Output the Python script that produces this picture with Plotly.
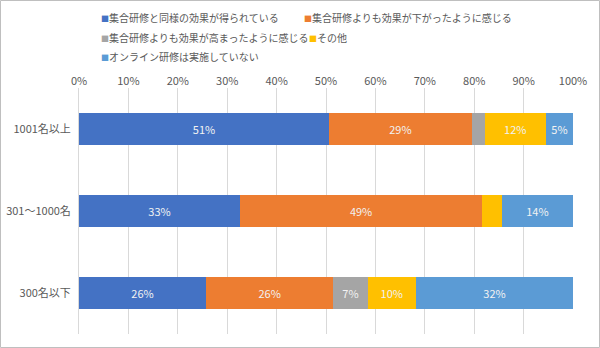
import plotly.graph_objects as go

categories = ["1001名以上", "301～1000名", "300名以下"]
series_names = [
    "集合研修と同様の効果が得られている",
    "集合研修よりも効果が下がったように感じる",
    "集合研修よりも効果が高まったように感じる",
    "その他",
    "オンライン研修は実施していない",
]
values = [
    [50.6, 32.6, 25.7],
    [28.9, 49.0, 25.8],
    [2.6, 0.0, 6.9],
    [12.4, 4.0, 9.8],
    [5.5, 14.4, 31.8],
]
labels = [
    ["51%", "33%", "26%"],
    ["29%", "49%", "26%"],
    ["", "", "7%"],
    ["12%", "", "10%"],
    ["5%", "14%", "32%"],
]
colors = ["#4472C4", "#ED7D31", "#A5A5A5", "#FFC000", "#5B9BD5"]

FONT = "Noto Sans CJK JP"
W, H = 600, 348
ml, mr, mt, mb = 79, 27, 88, 14
pw = W - ml - mr
ph = H - mt - mb

# legend entry positions (px): (marker_left, row_center)
legend_pos = [(101, 17.5), (304, 17.5), (101, 37), (309, 37), (101, 55.7)]
legend_ids = ["legend", "legend2", "legend3", "legend4", "legend5"]

fig = go.Figure()
for name, vals, lab, col in zip(series_names, values, labels, colors):
    fig.add_trace(go.Bar(
        y=categories, x=[v / 100 for v in vals], name=name, orientation="h",
        marker=dict(color=col, line=dict(width=0)),
        text=lab, textposition="inside", insidetextanchor="middle",
        textfont=dict(color="#F2F2F2", size=11, family=FONT),
        hoverinfo="skip", showlegend=False,
    ))

# legend entries: small coloured square glyph followed by the series name
for name, col, lid in zip(series_names, colors, legend_ids):
    fig.add_trace(go.Scatter(
        x=[None], y=[None], mode="lines", line=dict(width=0, color=col),
        name=f'<span style="font-size:8px;color:{col}">■</span>{name}',
        legend=lid, showlegend=True, hoverinfo="skip",
    ))

legend_layout = {}
for lid, (tx, cy) in zip(legend_ids, legend_pos):
    legend_layout[lid] = dict(
        orientation="h",
        x=(tx - 40 - ml) / pw, y=1 + (mt - (cy - 13.5)) / ph,
        xanchor="left", yanchor="top",
        itemwidth=30,
        font=dict(size=10, color="#595959", family=FONT),
        bgcolor="rgba(0,0,0,0)",
    )

fig.update_layout(
    width=W, height=H, showlegend=True,
    barmode="stack", bargap=0.6,
    margin=dict(l=ml, r=mr, t=mt, b=mb, autoexpand=False),
    paper_bgcolor="white", plot_bgcolor="white",
    font=dict(family=FONT, color="#595959", size=11),
    xaxis=dict(
        side="top", range=[0, 1], dtick=0.1, tickformat=".0%",
        showgrid=True, gridcolor="#D9D9D9", gridwidth=1,
        zeroline=False, showline=False,
        tickfont=dict(size=11, color="#595959", family=FONT),
        fixedrange=True,
    ),
    yaxis=dict(
        categoryorder="array", categoryarray=categories, autorange="reversed",
        showline=True, linecolor="#D9D9D9", linewidth=1,
        ticks="", tickfont=dict(size=11, color="#595959", family=FONT),
        ticksuffix="  ",
        fixedrange=True,
    ),
    shapes=[dict(
        type="rect", xref="paper", yref="paper",
        x0=(0.5 - ml) / pw, x1=(W - 0.5 - ml) / pw,
        y0=-(mb - 0.5) / ph, y1=1 + (mt - 0.5) / ph,
        line=dict(color="#BFBFBF", width=1), fillcolor="rgba(0,0,0,0)",
        layer="below",
    )],
    **legend_layout,
)

fig.write_html("out.html")
